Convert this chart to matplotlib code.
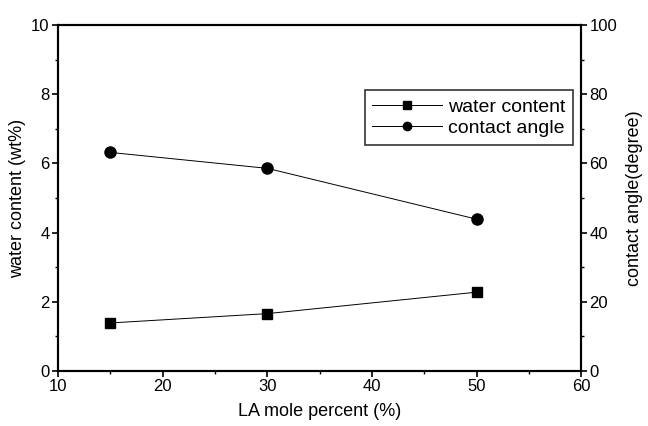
import matplotlib
matplotlib.use("Agg")
import matplotlib.pyplot as plt
from matplotlib.ticker import MultipleLocator

plt.rcParams['font.family'] = ['Liberation Sans', 'DejaVu Sans']

la_percent = [15, 30, 50]
water_content = [1.39, 1.66, 2.28]
contact_angle = [63.2, 58.6, 43.9]

fig = plt.figure(figsize=(6.48, 4.26), dpi=100)
ax = fig.add_axes([0.0895, 0.129, 0.8075, 0.812])
ax2 = ax.twinx()

l1, = ax.plot(la_percent, water_content, color='black', lw=0.7, marker='s', ms=7,
              label='water content')
l2, = ax2.plot(la_percent, contact_angle, color='black', lw=0.7, marker='o', ms=8,
               label='contact angle')

ax.set_xlim(10, 60)
ax.set_ylim(0, 10)
ax2.set_ylim(0, 100)
ax.xaxis.set_major_locator(MultipleLocator(10))
ax.xaxis.set_minor_locator(MultipleLocator(5))
ax.yaxis.set_major_locator(MultipleLocator(2))
ax.yaxis.set_minor_locator(MultipleLocator(1))
ax2.yaxis.set_major_locator(MultipleLocator(20))
ax2.yaxis.set_minor_locator(MultipleLocator(10))

for a in (ax, ax2):
    a.tick_params(which='major', direction='out', length=4, width=1.2, labelsize=12, pad=2)
    a.tick_params(which='minor', direction='out', length=2.5, width=1)
    for s in a.spines.values():
        s.set_linewidth(1.5)

ax.set_xlabel('LA mole percent (%)', fontsize=13, labelpad=6)
ax.set_ylabel('water content (wt%)', fontsize=13, labelpad=4)
ax2.set_ylabel('contact angle(degree)', fontsize=13, labelpad=6)

leg = ax.legend([l1, l2], ['water content', 'contact angle'], loc='upper right',
                bbox_to_anchor=(0.985, 0.812), fontsize=14, frameon=True, fancybox=False,
                edgecolor='black', handlelength=3.6, borderpad=0.4, labelspacing=0.2,
                handletextpad=0.3, markerscale=0.75, borderaxespad=0)
leg.get_frame().set_linewidth(1.2)

fig.savefig('out.png', dpi=100)
